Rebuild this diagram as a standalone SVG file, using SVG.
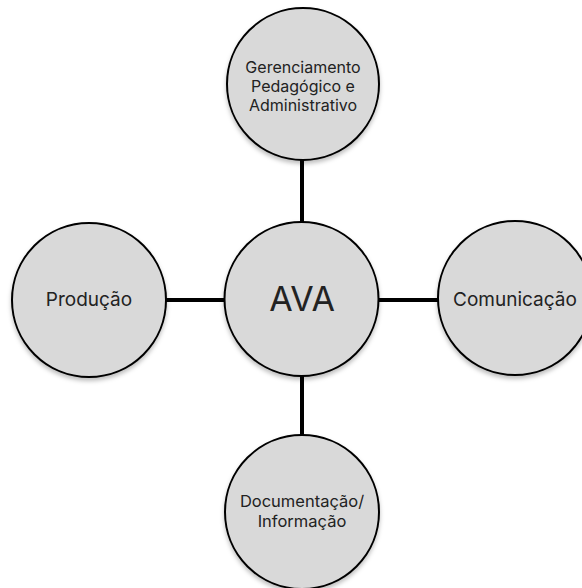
<svg xmlns="http://www.w3.org/2000/svg" width="582" height="588" viewBox="0 0 582 588">
<defs>
<filter id="sh" x="-20%" y="-20%" width="140%" height="140%">
<feDropShadow dx="0" dy="3" stdDeviation="2" flood-color="#000" flood-opacity="0.25"/>
</filter>
<style>
.n{fill:#d9d9d9;stroke:#000;stroke-width:2;filter:url(#sh)}
.t{font-family:Inter,"Noto Sans",sans-serif;font-size:16px;fill:#222;text-anchor:middle}
.big{font-size:34px}
.mid{font-size:19px}
.bot{font-size:16.5px}
.c{stroke:#000;stroke-width:4;fill:none}
</style>
</defs>
<rect width="582" height="588" fill="#fff"/>
<g id="connectors">
<line class="c" x1="302" y1="160" x2="302" y2="222"/>
<line class="c" x1="302" y1="376" x2="302" y2="435"/>
<line class="c" x1="166" y1="300" x2="225" y2="300"/>
<line class="c" x1="378" y1="300" x2="438" y2="300"/>
</g>
<g id="ava">
<circle class="n" cx="301.5" cy="299" r="77"/>
<text class="t big" x="302" y="311">AVA</text>
</g>
<g id="gerenciamento">
<circle class="n" cx="303" cy="84" r="76"/>
<text class="t" x="303" y="73">Gerenciamento</text>
<text class="t" x="303" y="92">Pedagógico e</text>
<text class="t" x="303" y="111">Administrativo</text>
</g>
<g id="producao">
<circle class="n" cx="89" cy="300" r="77"/>
<text class="t mid" x="89" y="306">Produção</text>
</g>
<g id="comunicacao">
<circle class="n" cx="515" cy="298" r="77"/>
<text class="t mid" x="515" y="306">Comunicação</text>
</g>
<g id="documentacao">
<circle class="n" cx="302" cy="512" r="77"/>
<text class="t bot" x="302" y="507">Documentação/</text>
<text class="t bot" x="302" y="527">Informação</text>
</g>
</svg>
